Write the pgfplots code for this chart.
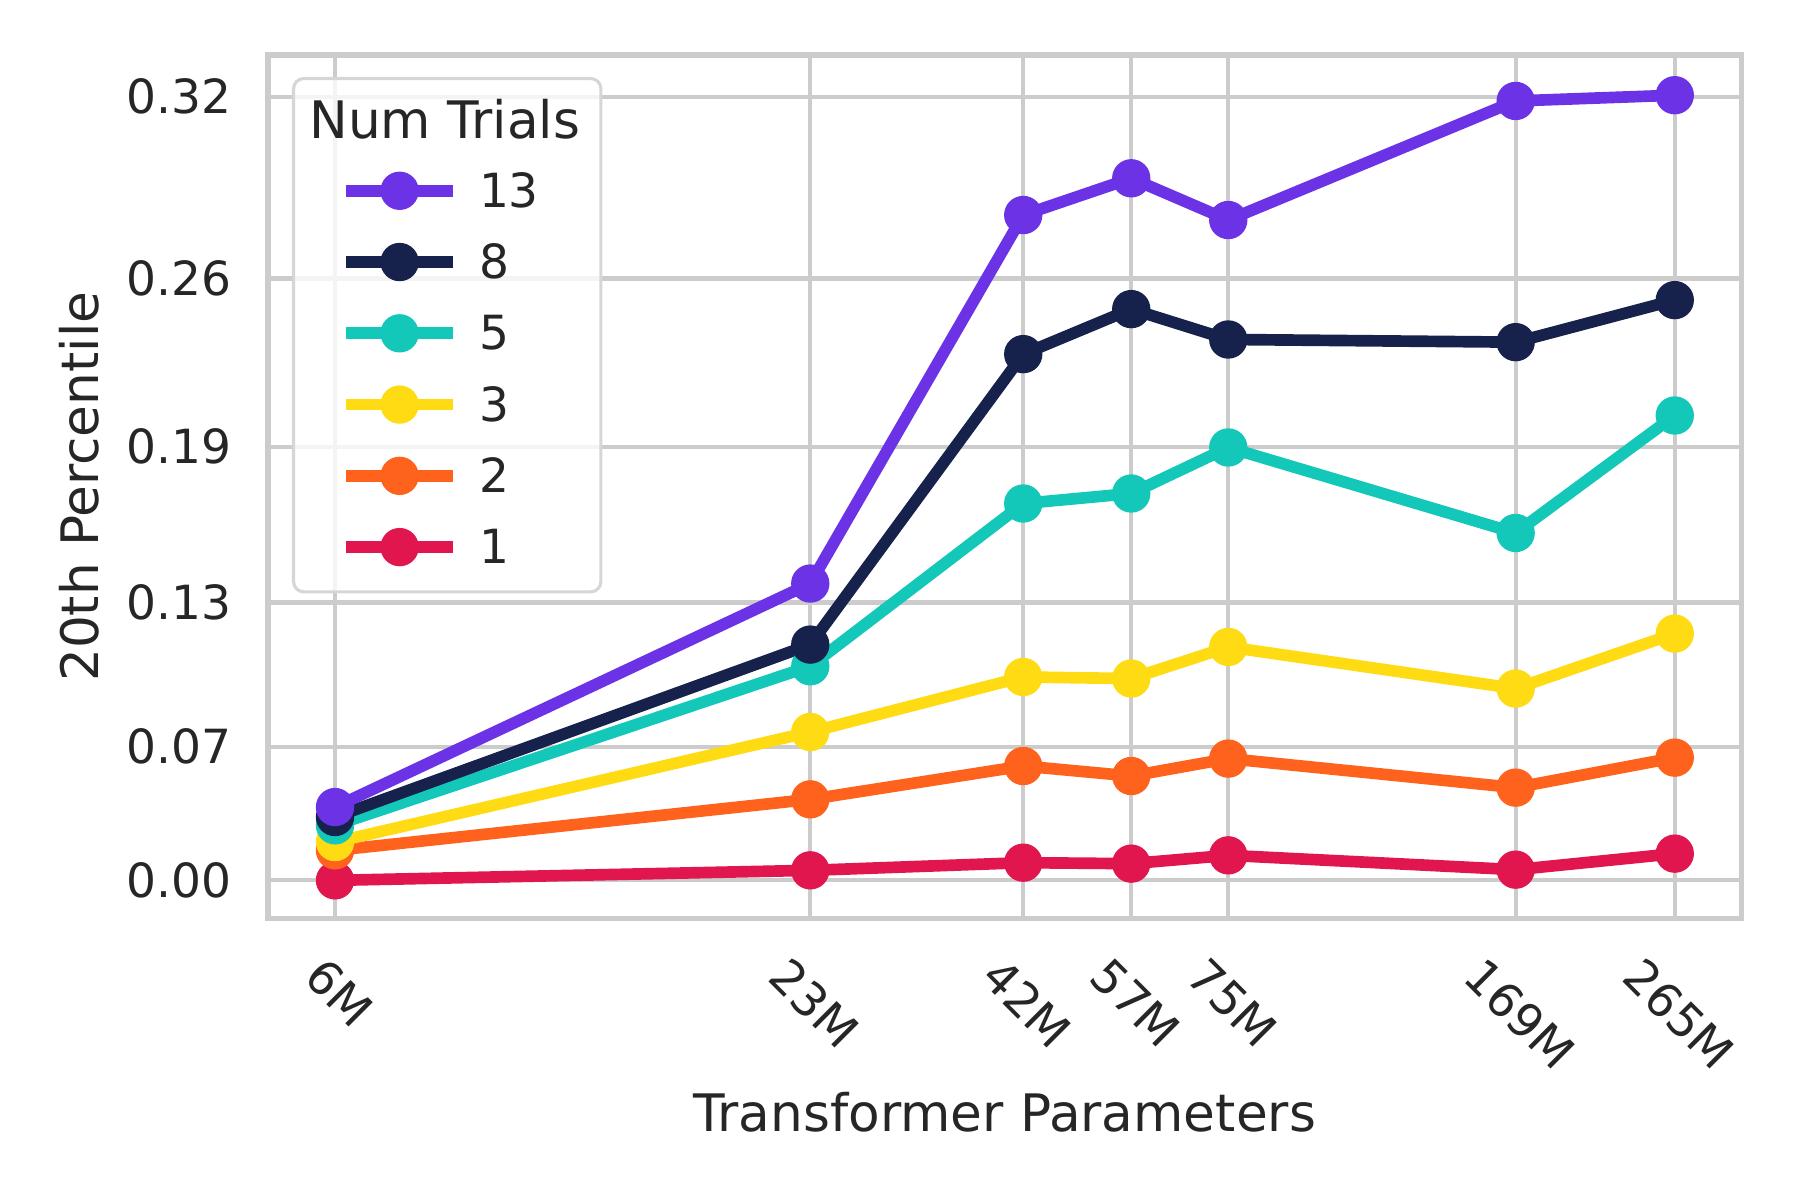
\documentclass[border=0pt]{standalone}
\usepackage{fontspec}
\setmainfont{DejaVu Sans}
\usepackage{graphicx}
\usepackage{pgfplots}
\pgfplotsset{compat=1.18}
\definecolor{c13}{RGB}{108,51,230}
\definecolor{c8}{RGB}{22,34,76}
\definecolor{c5}{RGB}{20,200,185}
\definecolor{c3}{RGB}{255,219,20}
\definecolor{c2}{RGB}{255,98,29}
\definecolor{c1}{RGB}{225,22,79}
\definecolor{gridc}{RGB}{204,204,204}
\definecolor{legedge}{RGB}{214,214,214}
\definecolor{txt}{RGB}{38,38,38}
\pgfplotsset{
  ser/.style={color=#1, line width=2.8bp, line join=round, mark=*, mark size=4.45bp,
    mark options={line width=0.3bp, fill=#1, draw=#1, solid}},
}
\begin{document}
\begin{tikzpicture}
\begin{axis}[
  width=353.6bp, height=207.2bp, scale only axis,
  xmode=log, xmin=4.964, xmax=320.2,
  ymin=-0.01971, ymax=0.33928,
  y coord trafo/.code={\pgfmathparse{exp(1.184*#1)}},
  y coord inv trafo/.code={\pgfmathparse{ln(#1)/1.184}},
  xtick={6,23,42,57,75,169,265},
  xticklabels={\rotatebox{-45}{6M},\rotatebox{-45}{23M},\rotatebox{-45}{42M},\rotatebox{-45}{57M},\rotatebox{-45}{75M},\rotatebox{-45}{169M},\rotatebox{-45}{265M}},
  ytick={0,0.065,0.13,0.195,0.26,0.325},
  yticklabels={0.00,0.07,0.13,0.19,0.26,0.32},
  xminorticks=false, yminorticks=false,
  major tick length=0pt,
  xmajorgrids, ymajorgrids,
  grid style={gridc, line width=1bp},
  axis line style={gridc, line width=1.25bp},
  tick label style={font=\fontsize{11.3bp}{13bp}\selectfont, text=txt},
  xticklabel style={anchor=north, inner sep=0pt, yshift=-8.6bp, xshift=1bp},
  yticklabel style={anchor=east, inner sep=0pt, xshift=-8.6bp},
  every axis x label/.style={at={([yshift=-51bp]rel axis cs:0.5,0)}, anchor=base, inner sep=0pt},
  every axis y label/.style={at={([xshift=-40.2bp]rel axis cs:0,0.5)}, rotate=90, anchor=south, inner sep=0pt},
  label style={font=\fontsize{12.4bp}{14bp}\selectfont, text=txt},
  xlabel={Transformer Parameters},
  ylabel={20th Percentile},
  legend cell align=left,
  legend image code/.code={
    \path[draw=none] (0bp,0bp) -- (7.6bp,0bp);
    \draw[mark repeat=2,mark phase=2,opacity=1,#1] plot coordinates {(7.6bp,0bp) (20.45bp,0bp) (33.3bp,0bp)};
  },
  legend style={at={(rel axis cs:0,1)}, anchor=north west, xshift=5.76bp, yshift=-5.25bp,
    draw=legedge, line width=0.75bp, rounded corners=2.5bp,
    fill=white, fill opacity=0.8, text opacity=1,
    inner xsep=5bp, inner ysep=6.3bp, row sep=8.2bp, column sep=4.8bp,
    font=\fontsize{11.3bp}{13bp}\selectfont, text=txt,
    nodes={inner sep=0pt, text height=8bp, text depth=0pt}},
]
\addlegendimage{empty legend}
\addlegendentry[font=\fontsize{12.4bp}{14bp}\selectfont]{\hspace*{-40.7bp}Num Trials}
\addlegendimage{ser=c13}\addlegendentry{13}
\addlegendimage{ser=c8}\addlegendentry{8}
\addlegendimage{ser=c5}\addlegendentry{5}
\addlegendimage{ser=c3}\addlegendentry{3}
\addlegendimage{ser=c2}\addlegendentry{2}
\addlegendimage{ser=c1}\addlegendentry{1}

\addplot[ser=c1, forget plot] coordinates {(6,0.0) (23,0.00505) (42,0.00891) (57,0.00841) (75,0.01256) (169,0.00540) (265,0.01341)};
\addplot[ser=c2, forget plot] coordinates {(6,0.01505) (23,0.04003) (42,0.05596) (57,0.05120) (75,0.05946) (169,0.04566) (265,0.05993)};
\addplot[ser=c3, forget plot] coordinates {(6,0.01916) (23,0.07191) (42,0.09710) (57,0.09638) (75,0.11052) (169,0.09185) (265,0.11645)};
\addplot[ser=c5, forget plot] coordinates {(6,0.02739) (23,0.10191) (42,0.17191) (57,0.17603) (75,0.19472) (169,0.15966) (265,0.20748)};
\addplot[ser=c8, forget plot] coordinates {(6,0.03144) (23,0.11158) (42,0.23141) (57,0.24855) (75,0.23704) (169,0.23601) (265,0.25194)};
\addplot[ser=c13, forget plot] coordinates {(6,0.03631) (23,0.13822) (42,0.28328) (57,0.29647) (75,0.28147) (169,0.32357) (265,0.32554)};
\end{axis}
\path (current axis.south west) ++(-64.3bp,-67.6bp) coordinate (bl);
\path (current axis.north east) ++(14bp,13.2bp) coordinate (tr);
\path (bl) rectangle (tr);
\end{tikzpicture}
\end{document}
